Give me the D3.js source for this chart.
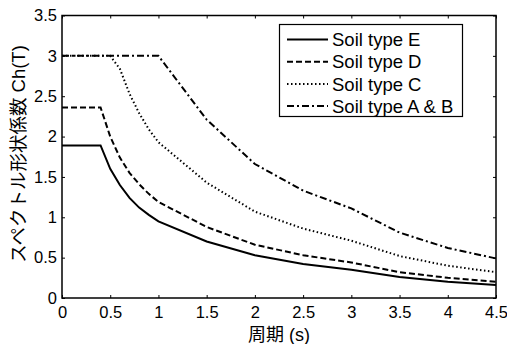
<!DOCTYPE html>
<html>
<head>
<meta charset="utf-8">
<script src="https://cdn.jsdelivr.net/npm/d3@7"></script>
<style>
  body { margin: 0; background: #fff; }
  text { font-family: "Liberation Sans", Arial, "Noto Sans CJK JP", sans-serif; fill: #000; }
  .jp { font-family: "Liberation Sans", "Noto Sans CJK JP", sans-serif; }
</style>
</head>
<body>
<svg id="chart" width="507" height="344"></svg>
<script>
// periods T (s)
const periods = [0, 0.1, 0.2, 0.3, 0.4, 0.5, 0.6, 0.7, 0.8, 0.9, 1.0, 1.5, 2.0, 2.5, 3.0, 3.5, 4.0, 4.5];

// spectral shape factor Ch(T)
const soilE  = [1.89, 1.89, 1.89, 1.89, 1.89, 1.60, 1.40, 1.24, 1.12, 1.03, 0.95, 0.70, 0.53, 0.42, 0.35, 0.26, 0.20, 0.16];
const soilD  = [2.36, 2.36, 2.36, 2.36, 2.36, 2.00, 1.74, 1.55, 1.41, 1.29, 1.19, 0.88, 0.66, 0.53, 0.44, 0.32, 0.25, 0.20];
const soilC  = [3.00, 3.00, 3.00, 3.00, 3.00, 3.00, 2.84, 2.53, 2.29, 2.09, 1.93, 1.43, 1.07, 0.86, 0.71, 0.52, 0.40, 0.32];
const soilAB = [3.00, 3.00, 3.00, 3.00, 3.00, 3.00, 3.00, 3.00, 3.00, 3.00, 3.00, 2.21, 1.66, 1.33, 1.11, 0.81, 0.62, 0.49];

const seriesNames = ["Soil type E", "Soil type D", "Soil type C", "Soil type A & B"];
const seriesValues = [soilE, soilD, soilC, soilAB];
const dashes = [null, "6,3", "1.5,2.5", "7,3,2,3"];

const xTicks = [0, 0.5, 1, 1.5, 2, 2.5, 3, 3.5, 4, 4.5];
const yTicks = [0, 0.5, 1, 1.5, 2, 2.5, 3, 3.5];

const svg = d3.select("#chart");
const plotLeft = 62, plotRight = 496, plotTop = 15.5, plotBottom = 298;

const x = d3.scaleLinear().domain([0, 4.5]).range([plotLeft, plotRight]);
const y = d3.scaleLinear().domain([0, 3.5]).range([plotBottom, plotTop]);

// axes with inward ticks
svg.append("g")
    .attr("transform", "translate(0," + plotBottom + ")")
    .call(d3.axisBottom(x).tickValues(xTicks).tickSizeInner(-3).tickSizeOuter(0).tickPadding(8)
        .tickFormat(d3.format("")))
    .call(g => g.select(".domain").remove())
    .selectAll("text").attr("font-size", 16.5).attr("dy", "0.72em");

svg.append("g")
    .attr("transform", "translate(0," + plotTop + ")")
    .call(d3.axisTop(x).tickValues(xTicks).tickSizeInner(-3).tickSizeOuter(0).tickFormat(""))
    .call(g => g.select(".domain").remove());

svg.append("g")
    .attr("transform", "translate(" + plotLeft + ",0)")
    .call(d3.axisLeft(y).tickValues(yTicks).tickSizeInner(-3).tickSizeOuter(0).tickPadding(5)
        .tickFormat(d3.format("")))
    .call(g => g.select(".domain").remove())
    .selectAll("text").attr("font-size", 16.5);

svg.append("g")
    .attr("transform", "translate(" + plotRight + ",0)")
    .call(d3.axisRight(y).tickValues(yTicks).tickSizeInner(-3).tickSizeOuter(0).tickFormat(""))
    .call(g => g.select(".domain").remove());

svg.selectAll(".tick line").attr("stroke", "#000").attr("stroke-width", 1);

// frame
svg.append("rect")
    .attr("x", plotLeft).attr("y", plotTop)
    .attr("width", plotRight - plotLeft).attr("height", plotBottom - plotTop)
    .attr("fill", "none").attr("stroke", "#000").attr("stroke-width", 1.5);

// series lines
const line = d3.line()
    .x((d, i) => x(periods[i]))
    .y(d => y(d));

seriesValues.forEach(function(vals, k) {
    svg.append("path")
        .datum(vals)
        .attr("d", line)
        .attr("fill", "none")
        .attr("stroke", "#000")
        .attr("stroke-width", 2)
        .attr("stroke-dasharray", dashes[k]);
});

// legend
const legend = svg.append("g");
legend.append("rect")
    .attr("x", 279.5).attr("y", 24.5).attr("width", 183).attr("height", 92)
    .attr("fill", "#fff").attr("stroke", "#000").attr("stroke-width", 1.2);

seriesNames.forEach(function(name, k) {
    const ly = 39.5 + k * 22.2;
    legend.append("line")
        .attr("x1", 287).attr("x2", 328).attr("y1", ly).attr("y2", ly)
        .attr("stroke", "#000").attr("stroke-width", 2)
        .attr("stroke-dasharray", dashes[k]);
    legend.append("text")
        .attr("x", 332).attr("y", ly).attr("dy", "0.36em")
        .attr("font-size", 18.5)
        .text(name);
});

// axis titles
svg.append("text")
    .attr("class", "jp")
    .attr("x", (plotLeft + plotRight) / 2).attr("y", 341)
    .attr("text-anchor", "middle").attr("font-size", 18)
    .text("周期 (s)");

svg.append("text")
    .attr("class", "jp")
    .attr("transform", "translate(25," + 154 + ") rotate(-90)")
    .attr("text-anchor", "middle").attr("font-size", 18.5)
    .text("スペクトル形状係数 Ch(T)");
</script>
</body>
</html>
